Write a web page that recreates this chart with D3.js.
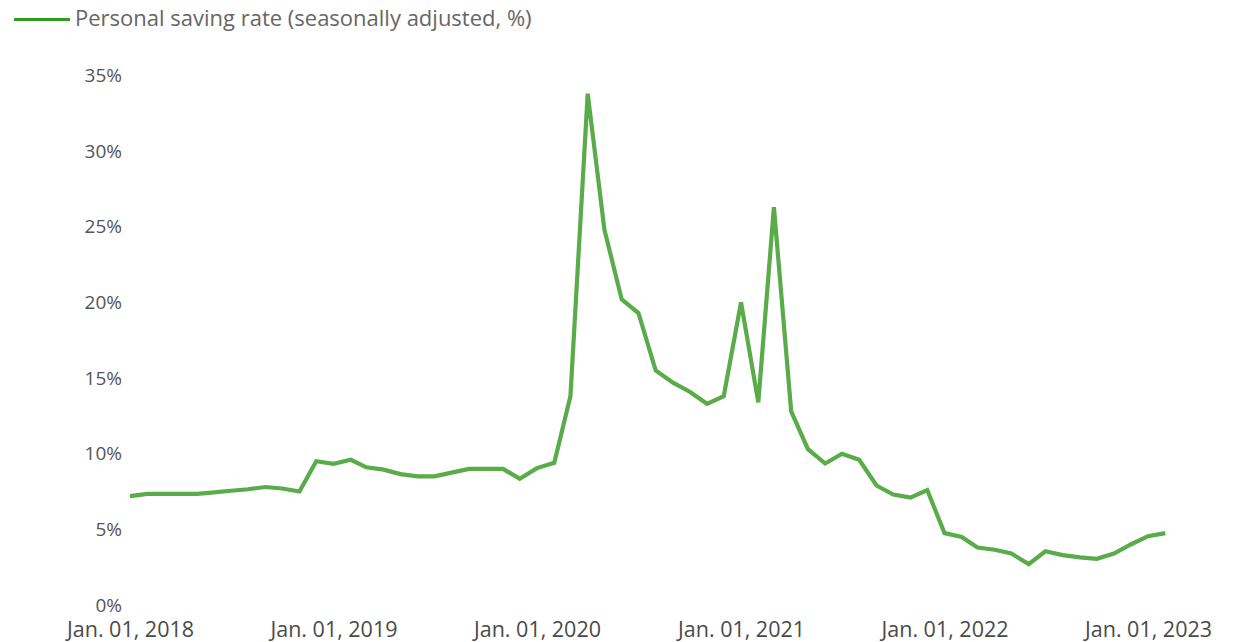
<!DOCTYPE html>
<html>
<head>
<meta charset="utf-8">
<script src="https://cdn.jsdelivr.net/npm/d3@7"></script>
<style>
  html, body { margin: 0; padding: 0; background: #fff; }
  svg { display: block; font-family: "Open Sans", "Noto Sans", sans-serif; }
</style>
</head>
<body>
<svg id="chart" width="1240" height="642"></svg>
<script>
// Monthly personal saving rate, seasonally adjusted (%), Jan 2018 – Feb 2023
const months = [
  "2018-01","2018-02","2018-03","2018-04","2018-05","2018-06","2018-07","2018-08","2018-09","2018-10","2018-11","2018-12",
  "2019-01","2019-02","2019-03","2019-04","2019-05","2019-06","2019-07","2019-08","2019-09","2019-10","2019-11","2019-12",
  "2020-01","2020-02","2020-03","2020-04","2020-05","2020-06","2020-07","2020-08","2020-09","2020-10","2020-11","2020-12",
  "2021-01","2021-02","2021-03","2021-04","2021-05","2021-06","2021-07","2021-08","2021-09","2021-10","2021-11","2021-12",
  "2022-01","2022-02","2022-03","2022-04","2022-05","2022-06","2022-07","2022-08","2022-09","2022-10","2022-11","2022-12",
  "2023-01","2023-02"
];
const savingRate = [
  7.2, 7.35, 7.35, 7.35, 7.35, 7.45, 7.55, 7.65, 7.8, 7.7, 7.5, 9.5,
  9.33, 9.6, 9.1, 8.95, 8.65, 8.5, 8.5, 8.75, 9.0, 9.0, 9.0, 8.35,
  9.05, 9.4, 13.8, 33.8, 24.8, 20.2, 19.3, 15.5, 14.7, 14.1, 13.3, 13.8,
  20.0, 13.4, 26.3, 12.8, 10.3, 9.35, 10.0, 9.6, 7.9, 7.3, 7.1, 7.6,
  4.75, 4.5, 3.8, 3.65, 3.4, 2.7, 3.55, 3.3, 3.15, 3.05, 3.4, 4.0,
  4.55, 4.75
];
const yTicks = [0, 5, 10, 15, 20, 25, 30, 35];
const xTicks = ["2018-01-01","2019-01-01","2020-01-01","2021-01-01","2022-01-01","2023-01-01"];
const seriesLabel = "Personal saving rate (seasonally adjusted, %)";

const parseMonth = d3.timeParse("%Y-%m");
const parseDay = d3.timeParse("%Y-%m-%d");
const data = months.map((m, i) => ({ date: parseMonth(m), value: savingRate[i] }));

const svg = d3.select("#chart");
const x = d3.scaleTime()
  .domain([parseDay("2018-01-01"), parseDay("2023-01-01")])
  .range([130, 1148]);
const y = d3.scaleLinear().domain([0, 35]).range([605, 75.5]);

// Y axis: labels only, no line or ticks
const yAxis = svg.append("g")
  .attr("transform", "translate(122,0)")
  .call(d3.axisLeft(y).tickValues(yTicks).tickFormat(d => d + "%").tickSize(0).tickPadding(0));
yAxis.select(".domain").remove();
yAxis.selectAll("text")
  .attr("fill", "#555")
  .style("font-size", "19px")
  .style("font-family", "'Open Sans', sans-serif");

// X axis: labels only
const fmt = d3.timeFormat("%b. %d, %Y");
const xAxis = svg.append("g")
  .attr("transform", "translate(0,622)")
  .call(d3.axisBottom(x).tickValues(xTicks.map(parseDay)).tickFormat(fmt).tickSize(0).tickPadding(0));
xAxis.select(".domain").remove();
xAxis.selectAll("text")
  .attr("fill", "#4a4a4a")
  .style("font-size", "21.5px")
  .style("font-family", "'Open Sans', sans-serif");

// Series line
const line = d3.line().x(d => x(d.date)).y(d => y(d.value));
svg.append("path")
  .datum(data)
  .attr("fill", "none")
  .attr("stroke", "#5aab4a")
  .attr("stroke-width", 4.2)
  .attr("stroke-linejoin", "miter")
  .attr("d", line);

// Legend
const legend = svg.append("g");
legend.append("line")
  .attr("x1", 14).attr("x2", 70)
  .attr("y1", 19.5).attr("y2", 19.5)
  .attr("stroke", "#2e9a1f")
  .attr("stroke-width", 3);
legend.append("text")
  .attr("x", 75).attr("y", 26)
  .attr("fill", "#666")
  .style("font-size", "22px")
  .text(seriesLabel);
</script>
</body>
</html>
